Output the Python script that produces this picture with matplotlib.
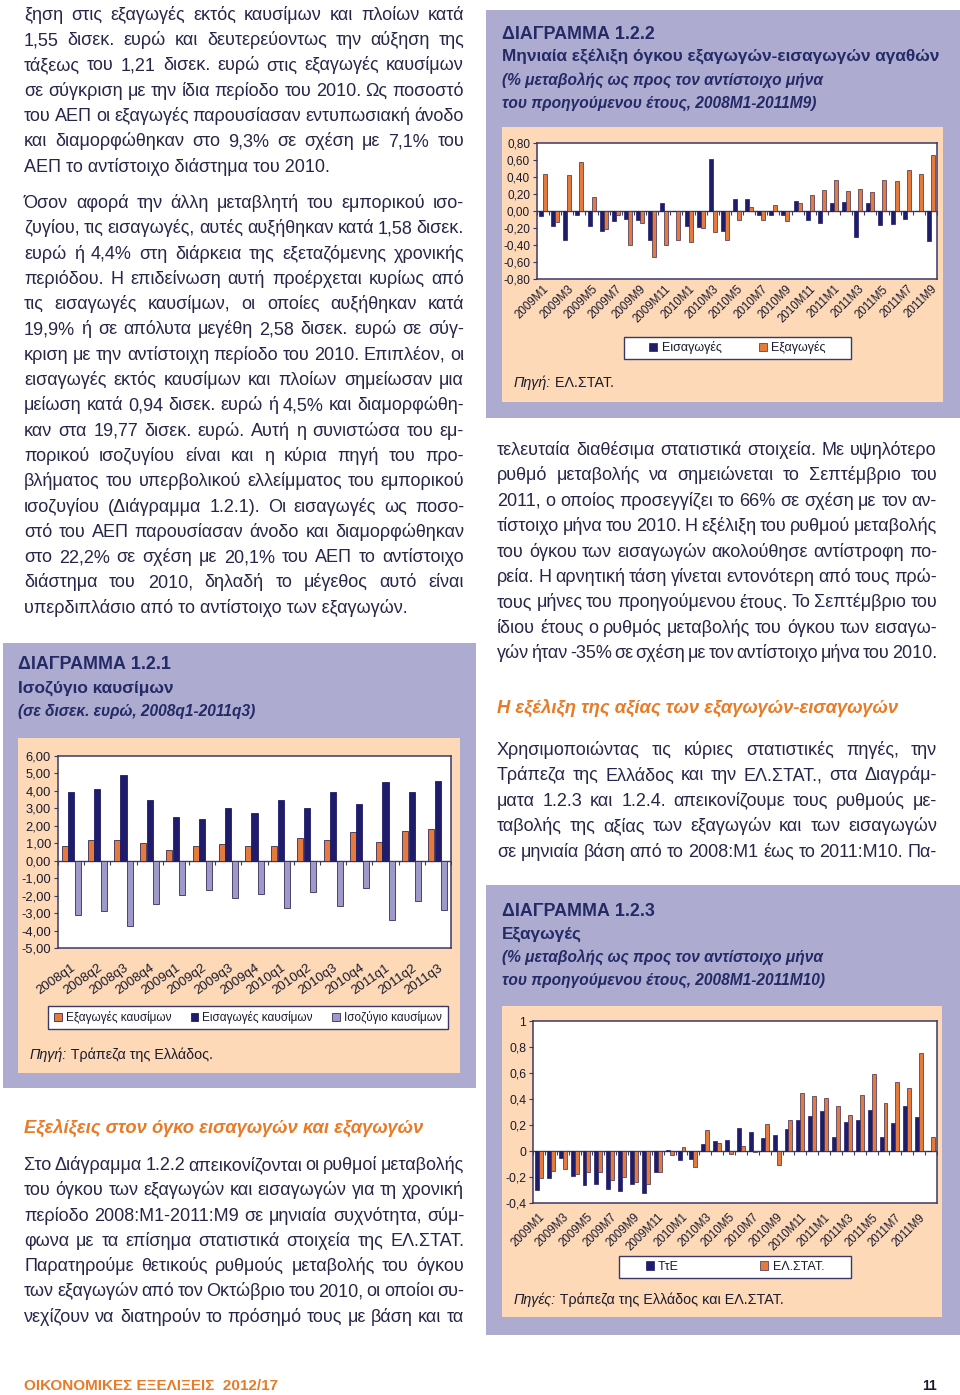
import numpy as np
import matplotlib.pyplot as plt
from matplotlib.patches import Rectangle
from matplotlib.ticker import FuncFormatter

W, H = 960, 1395
plt.rcParams['font.family'] = ['Liberation Sans', 'DejaVu Sans']

NAVY = '#1f1c6b'
ORANGE = '#e57a3c'
LILAC = '#9d99cb'
EDGE = '#3a2c55'
FRAME = '#3b3868'
LAVENDER = '#aeabd0'
PEACH = '#fdd9b8'
TEXT = '#26264a'
HEAD = '#232a66'
ORANGE_HEAD = '#ea7a25'
BODY_FS = 13.0

# --- Chart 1.2.1: fuel balance, bn euro, quarterly
quarters = ['2008q1', '2008q2', '2008q3', '2008q4', '2009q1', '2009q2', '2009q3', '2009q4',
            '2010q1', '2010q2', '2010q3', '2010q4', '2011q1', '2011q2', '2011q3']
fuel_exports = [0.82, 1.20, 1.20, 1.04, 0.59, 0.82, 0.93, 0.82, 0.82, 1.31, 1.20, 1.63, 1.10, 1.69, 1.80]
fuel_imports = [3.93, 4.10, 4.91, 3.49, 2.52, 2.41, 3.00, 2.73, 3.49, 3.00, 3.93, 3.23, 4.52, 3.93, 4.59]
fuel_balance = [-3.09, -2.90, -3.76, -2.50, -1.94, -1.67, -2.11, -1.88, -2.73, -1.79, -2.60, -1.54,
                -3.38, -2.28, -2.82]

# --- Chart 1.2.2: volume of exports / imports, % yoy, monthly
months_vol = [f'{y}M{m}' for y in (2009, 2010, 2011) for m in range(1, 13)][:33]
vol_imports = [-0.06, -0.18, -0.34, -0.05, -0.18, -0.24, -0.12, -0.09, -0.10, -0.34, 0.09, 0.0,
               -0.18, -0.19, 0.61, -0.23, 0.14, 0.14, -0.05, -0.05, -0.05, 0.12, -0.11, -0.14,
               0.10, 0.11, -0.31, 0.09, -0.17, -0.15, -0.09, 0.0, -0.35]
vol_exports = [0.43, -0.13, 0.42, 0.58, 0.16, -0.21, -0.05, -0.40, -0.14, -0.54, -0.40, -0.34,
               -0.37, -0.20, -0.25, -0.34, -0.11, 0.05, -0.11, 0.07, -0.12, 0.10, 0.19, 0.25,
               0.36, 0.23, 0.26, 0.22, 0.36, 0.35, 0.48, 0.43, 0.66]

# --- Chart 1.2.3: exports value, % yoy, monthly
months_val = [f'{y}M{m}' for y in (2009, 2010, 2011) for m in range(1, 13)][:34]
exp_bog = [-0.30, -0.21, -0.05, -0.19, -0.26, -0.25, -0.29, -0.31, -0.25, -0.325, -0.16, 0.005,
           -0.07, -0.06, 0.055, 0.08, 0.085, 0.18, 0.15, 0.10, 0.12, 0.17, 0.24, 0.27,
           0.31, 0.11, 0.22, 0.24, 0.315, 0.11, 0.215, 0.35, 0.26, 0.0]
exp_elstat = [-0.21, -0.15, -0.14, -0.18, -0.16, -0.16, -0.22, -0.20, -0.24, -0.25, -0.165, -0.03,
              0.03, -0.125, 0.16, 0.06, -0.025, 0.035, -0.005, 0.21, -0.11, 0.24, 0.45, 0.42,
              0.405, 0.35, 0.28, 0.43, 0.59, 0.37, 0.53, 0.485, 0.755, 0.11]

left_p1 = [
    "ξηση στις εξαγωγές εκτός καυσίμων και πλοίων κατά",
    "1,55 δισεκ. ευρώ  και δευτερεύοντως την αύξηση της",
    "τάξεως του 1,21 δισεκ. ευρώ στις εξαγωγές καυσίμων",
    "σε σύγκριση με την ίδια περίοδο του 2010. Ως ποσοστό",
    "του ΑΕΠ οι εξαγωγές παρουσίασαν εντυπωσιακή άνοδο",
    "και διαμορφώθηκαν στο 9,3% σε σχέση με 7,1% του",
    "ΑΕΠ το αντίστοιχο διάστημα του 2010.",
]
left_p2 = [
    "Όσον αφορά την άλλη μεταβλητή του εμπορικού ισο-",
    "ζυγίου, τις εισαγωγές, αυτές αυξήθηκαν κατά 1,58 δισεκ.",
    "ευρώ ή 4,4% στη διάρκεια της εξεταζόμενης χρονικής",
    "περιόδου. Η επιδείνωση αυτή προέρχεται κυρίως από",
    "τις εισαγωγές καυσίμων, οι οποίες αυξήθηκαν κατά",
    "19,9% ή σε απόλυτα μεγέθη 2,58 δισεκ. ευρώ σε σύγ-",
    "κριση με την αντίστοιχη περίοδο του 2010. Επιπλέον, οι",
    "εισαγωγές εκτός καυσίμων και πλοίων σημείωσαν μια",
    "μείωση κατά 0,94 δισεκ. ευρώ ή 4,5% και διαμορφώθη-",
    "καν στα 19,77 δισεκ. ευρώ. Αυτή η συνιστώσα του εμ-",
    "πορικού ισοζυγίου είναι και η κύρια πηγή του προ-",
    "βλήματος του υπερβολικού ελλείμματος του εμπορικού",
    "ισοζυγίου (Διάγραμμα 1.2.1). Οι εισαγωγές ως ποσο-",
    "στό του ΑΕΠ παρουσίασαν άνοδο και διαμορφώθηκαν",
    "στο 22,2% σε σχέση με 20,1% του ΑΕΠ το αντίστοιχο",
    "διάστημα του 2010, δηλαδή το μέγεθος αυτό είναι",
    "υπερδιπλάσιο από το αντίστοιχο των εξαγωγών.",
]
left_p3 = [
    "Στο Διάγραμμα 1.2.2 απεικονίζονται οι ρυθμοί μεταβολής",
    "του όγκου των εξαγωγών και εισαγωγών για τη χρονική",
    "περίοδο 2008:Μ1-2011:Μ9 σε μηνιαία συχνότητα, σύμ-",
    "φωνα με τα επίσημα στατιστικά στοιχεία της ΕΛ.ΣΤΑΤ.",
    "Παρατηρούμε θετικούς ρυθμούς μεταβολής του όγκου",
    "των εξαγωγών από τον Οκτώβριο του 2010, οι οποίοι συ-",
    "νεχίζουν να διατηρούν το πρόσημό τους με βάση και τα",
]
right_p1 = [
    "τελευταία διαθέσιμα στατιστικά στοιχεία. Με υψηλότερο",
    "ρυθμό μεταβολής να σημειώνεται το Σεπτέμβριο του",
    "2011, ο οποίος προσεγγίζει το 66% σε σχέση με τον αν-",
    "τίστοιχο μήνα του 2010. Η εξέλιξη του ρυθμού μεταβολής",
    "του όγκου των εισαγωγών ακολούθησε αντίστροφη πο-",
    "ρεία. Η αρνητική τάση γίνεται εντονότερη από τους πρώ-",
    "τους μήνες του προηγούμενου έτους. Το Σεπτέμβριο του",
    "ίδιου έτους ο ρυθμός μεταβολής του όγκου των εισαγω-",
    "γών ήταν -35% σε σχέση με τον αντίστοιχο μήνα του 2010.",
]
right_p2 = [
    "Χρησιμοποιώντας τις κύριες στατιστικές πηγές, την",
    "Τράπεζα της Ελλάδος και την ΕΛ.ΣΤΑΤ., στα Διαγράμ-",
    "ματα 1.2.3 και 1.2.4. απεικονίζουμε τους ρυθμούς με-",
    "ταβολής της αξίας των εξαγωγών και των εισαγωγών",
    "σε μηνιαία βάση από το 2008:Μ1 έως το 2011:Μ10. Πα-",
]

fig = plt.figure(figsize=(W / 100, H / 100), dpi=100)
rend = fig.canvas.get_renderer()


def fx(x):
    return x / W


def fy(y):
    return 1 - y / H


def box(x0, y0, x1, y1, color, ec='none', lw=0):
    fig.patches.append(Rectangle((fx(x0), fy(y1)), (x1 - x0) / W, (y1 - y0) / H,
                                 transform=fig.transFigure, facecolor=color,
                                 edgecolor=ec, linewidth=lw, zorder=-1))


def txt(x, y, s, **kw):
    kw.setdefault('color', TEXT)
    return fig.text(fx(x), fy(y), s, va='baseline', **kw)


def width_of(s, **kw):
    t = fig.text(0, 0, s, **kw)
    w = t.get_window_extent(rend).width
    t.remove()
    return w


def paragraph(lines, x0, x1, y0, step, fs=BODY_FS, last_justified=False):
    for i, line in enumerate(lines):
        y = y0 + i * step
        words = line.split()
        if (i == len(lines) - 1 and not last_justified) or len(words) == 1:
            txt(x0, y, line, fontsize=fs)
            continue
        ws = [width_of(w, fontsize=fs) for w in words]
        gap = (x1 - x0 - sum(ws)) / (len(words) - 1)
        x = x0
        for w, wd in zip(words, ws):
            txt(x, y, w, fontsize=fs)
            x += wd + gap


def mixed(x, y, parts, fs):
    for s, style in parts:
        txt(x, y, s, fontsize=fs, style=style, color='#1a1a2e')
        x += width_of(s, fontsize=fs, style=style)


def comma(dec):
    if dec:
        return FuncFormatter(lambda v, p: f'{round(v, dec) + 0.0:.{dec}f}'.replace('.', ','))
    return FuncFormatter(lambda v, p: f'{round(v, 2) + 0.0:g}'.replace('.', ','))


def setup(ax, n, labels, step, ylim, yticks, fmt, rot, xfs, yfs, xpad):
    ax.set_facecolor('white')
    ax.set_xlim(-0.5, n - 0.5)
    ax.set_ylim(*ylim)
    ax.set_yticks(yticks)
    ax.yaxis.set_major_formatter(fmt)
    ax.set_xticks(range(0, n, step))
    ax.set_xticklabels(labels[::step], rotation=rot, ha='right', rotation_mode='anchor',
                       fontsize=xfs, color='#1a1a2e')
    ax.tick_params(axis='x', length=0, pad=xpad)
    ax.tick_params(axis='y', length=3, width=0.8, color=FRAME, labelsize=yfs,
                   labelcolor='#1a1a2e', pad=2)
    for sp in ax.spines.values():
        sp.set_color(FRAME)
        sp.set_linewidth(1.1)
    ax.axhline(0, color=FRAME, lw=1.0, zorder=1)
    ax.plot(np.arange(n + 1) - 0.5, np.zeros(n + 1), ls='none', marker=3, ms=3,
            mew=0.8, color=FRAME, zorder=1)


def legend_box(x0, y0, x1, y1, handles, labels, fs, colsp):
    box(x0, y0, x1, y1, 'white', ec=FRAME, lw=1.0)
    fig.legend(handles, labels, loc='center', bbox_to_anchor=(fx((x0 + x1) / 2), fy((y0 + y1) / 2)),
               ncol=len(labels), frameon=False, fontsize=fs, handlelength=0.65, handleheight=0.65,
               handletextpad=0.35, columnspacing=colsp, labelcolor='#1a1a2e')


# ---------- backgrounds of the three chart boxes
box(486, 10, 960, 418, LAVENDER)
box(502, 127, 943, 402, PEACH)
box(3, 643, 476, 1088, LAVENDER)
box(18, 738, 460, 1073, PEACH)
box(486, 885, 960, 1335, LAVENDER)
box(502, 1006, 942, 1317, PEACH)

# ---------- body text
paragraph(left_p1, 24, 464, 20, 25.25)
paragraph(left_p2, 24, 464, 208, 25.3)
paragraph(left_p3, 24, 464, 1170, 25.3, last_justified=True)
paragraph(right_p1, 497, 937, 455, 25.4, last_justified=True)
paragraph(right_p2, 497, 937, 755, 25.4, last_justified=True)

txt(24, 1133, 'Εξελίξεις στον όγκο εισαγωγών και εξαγωγών', fontsize=13.2,
    weight='bold', style='italic', color=ORANGE_HEAD)
txt(497, 713, 'Η εξέλιξη της αξίας των εξαγωγών-εισαγωγών', fontsize=13.2,
    weight='bold', style='italic', color=ORANGE_HEAD)

# ---------- chart titles
txt(502, 39, 'ΔΙΑΓΡΑΜΜΑ 1.2.2', fontsize=12.9, weight='bold', color=HEAD)
txt(502, 62, 'Μηνιαία εξέλιξη όγκου εξαγωγών-εισαγωγών αγαθών', fontsize=12.4, weight='bold', color=HEAD)
txt(502, 85, '(% μεταβολής ως προς τον αντίστοιχο μήνα', fontsize=11.2, weight='bold',
    style='italic', color=HEAD)
txt(502, 108, 'του προηγούμενου έτους, 2008Μ1-2011Μ9)', fontsize=11.2, weight='bold',
    style='italic', color=HEAD)

txt(18, 669, 'ΔΙΑΓΡΑΜΜΑ 1.2.1', fontsize=12.9, weight='bold', color=HEAD)
txt(18, 693, 'Ισοζύγιο καυσίμων', fontsize=12.4, weight='bold', color=HEAD)
txt(18, 716, '(σε δισεκ. ευρώ, 2008q1-2011q3)', fontsize=11.2, weight='bold',
    style='italic', color=HEAD)

txt(502, 916, 'ΔΙΑΓΡΑΜΜΑ 1.2.3', fontsize=12.9, weight='bold', color=HEAD)
txt(502, 939, 'Εξαγωγές', fontsize=12.4, weight='bold', color=HEAD)
txt(502, 962, '(% μεταβολής ως προς τον αντίστοιχο μήνα', fontsize=11.2, weight='bold',
    style='italic', color=HEAD)
txt(502, 985, 'του προηγούμενου έτους, 2008Μ1-2011Μ10)', fontsize=11.2, weight='bold',
    style='italic', color=HEAD)

# ---------- chart 1.2.1
ax1 = fig.add_axes([fx(58), fy(948), (451 - 58) / W, (948 - 756) / H])
x = np.arange(len(quarters))
b1 = ax1.bar(x - 0.25, fuel_exports, 0.23, color=ORANGE, edgecolor=EDGE, lw=0.6, zorder=2)
b2 = ax1.bar(x, fuel_imports, 0.23, color=NAVY, edgecolor=NAVY, lw=0.6, zorder=2)
b3 = ax1.bar(x + 0.25, fuel_balance, 0.23, color=LILAC, edgecolor=EDGE, lw=0.6, zorder=2)
setup(ax1, len(quarters), quarters, 1, (-5, 6), np.arange(-5, 7), comma(2), 35, 9.5, 9.3, 10)
legend_box(48, 1006, 448, 1029, [b1, b2, b3],
           ['Εξαγωγές καυσίμων', 'Εισαγωγές καυσίμων', 'Ισοζύγιο καυσίμων'], 8.5, 1.6)
mixed(30, 1059, [('Πηγή:', 'italic'), (' Τράπεζα της Ελλάδος.', 'normal')], 10.3)

# ---------- chart 1.2.2
ax2 = fig.add_axes([fx(537), fy(279), (937 - 537) / W, (279 - 143) / H])
x = np.arange(len(months_vol))
c1 = ax2.bar(x - 0.165, vol_imports, 0.33, color=NAVY, edgecolor=NAVY, lw=0.5, zorder=2)
c2 = ax2.bar(x + 0.165, vol_exports, 0.33, color=ORANGE, edgecolor=EDGE, lw=0.5, zorder=2)
setup(ax2, len(months_vol), months_vol, 2, (-0.8, 0.8), np.arange(-0.8, 0.81, 0.2), comma(2),
      45, 8.3, 8.5, 3)
legend_box(624, 337, 851, 359, [c1, c2], ['Εισαγωγές', 'Εξαγωγές'], 9, 3.0)
mixed(514, 387, [('Πηγή:', 'italic'), (' ΕΛ.ΣΤΑΤ.', 'normal')], 10.3)

# ---------- chart 1.2.3
ax3 = fig.add_axes([fx(533), fy(1203), (937 - 533) / W, (1203 - 1021) / H])
x = np.arange(len(months_val))
d1 = ax3.bar(x - 0.165, exp_bog, 0.33, color=NAVY, edgecolor=NAVY, lw=0.5, zorder=2)
d2 = ax3.bar(x + 0.165, exp_elstat, 0.33, color=ORANGE, edgecolor=EDGE, lw=0.5, zorder=2)
setup(ax3, len(months_val), months_val, 2, (-0.4, 1.0), np.arange(-0.4, 1.01, 0.2), comma(0),
      45, 8.3, 8.8, 6)
legend_box(619, 1256, 851, 1278, [d1, d2], ['ΤτΕ', 'ΕΛ.ΣΤΑΤ.'], 9, 6.5)
mixed(514, 1304, [('Πηγές:', 'italic'), (' Τράπεζα της Ελλάδος και ΕΛ.ΣΤΑΤ.', 'normal')], 10.3)

# ---------- footer
txt(24, 1390, 'ΟΙΚΟΝΟΜΙΚΕΣ ΕΞΕΛΙΞΕΙΣ  2012/17', fontsize=11, weight='bold', color=ORANGE_HEAD)
txt(937, 1390, '11', fontsize=10, weight='bold', color='#1a1a2e', ha='right')

fig.savefig('out.png', dpi=100)
